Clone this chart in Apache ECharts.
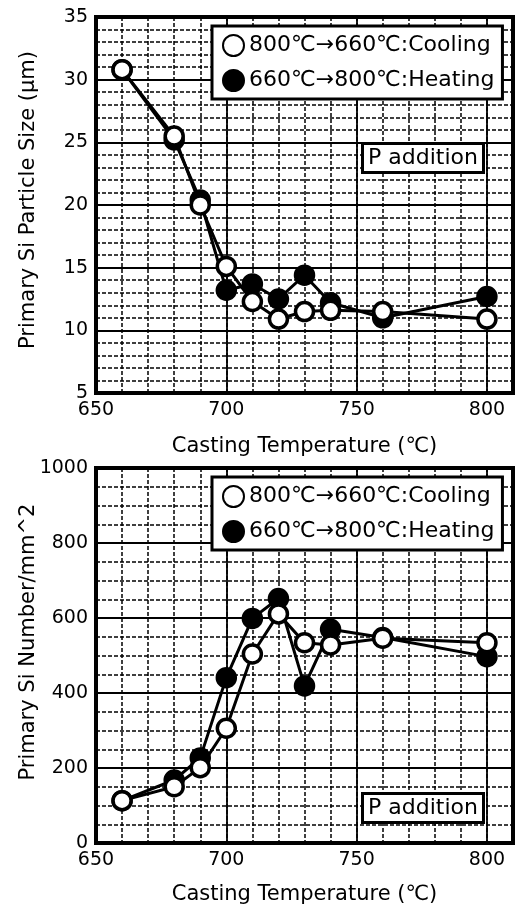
<!DOCTYPE html>
<html lang='en'>
  <head>
    <meta charset='utf-8'>
    <title>Primary Si vs casting temperature</title>
  </head>
  <body style="margin:0;background:#fff;">
    <div id="main" style="width:515px;height:907px;"></div>
    <script src="https://cdn.jsdelivr.net/npm/echarts@6/dist/echarts.min.js"></script>
    <script>
      // casting temperatures (C)
      var temps = [660, 680, 690, 700, 710, 720, 730, 740, 760, 800];
      // primary Si particle size (um)
      var sizeCooling = [30.8, 25.5, 20.0, 15.1, 12.3, 10.9, 11.5, 11.6, 11.5, 10.9];
      var sizeHeating = [30.8, 25.2, 20.4, 13.2, 13.7, 12.5, 14.4, 12.2, 11.0, 12.7];
      // primary Si number per mm^2
      var numCooling = [113, 150, 201, 306, 504, 611, 534, 528, 546, 534];
      var numHeating = [113, 168, 227, 441, 599, 652, 419, 570, 548, 497];

      var nameCooling = '800℃→660℃:Cooling';
      var nameHeating = '660℃→800℃:Heating';
      var font = '"DejaVu Sans", "Noto Sans CJK JP", sans-serif';

      function pairs(xs, ys) {
        return xs.map(function(x, i) { return [x, ys[i]]; });
      }

      var dashed = { color: '#000', width: 1.5, type: [4, 2] };
      var solid = { color: '#000', width: 1.8 };

      // hidden axis only used for the 10-degree dashed grid
      function minorX(g) {
        return {
          type: 'value', gridIndex: g, position: 'top', min: 650, max: 810, interval: 10,
          axisLine: { show: false }, axisTick: { show: false }, axisLabel: { show: false },
          splitLine: { show: true, lineStyle: dashed }
        };
      }
      function mainX(g, gap) {
        return {
          type: 'value', gridIndex: g, position: 'bottom', min: 650, max: 810, interval: 50,
          name: 'Casting Temperature (℃)', nameLocation: 'middle', nameGap: gap,
          nameTextStyle: { fontFamily: font, fontSize: 21, color: '#000' },
          axisLine: { show: false }, axisTick: { show: false },
          axisLabel: { fontFamily: font, fontSize: 19, color: '#000', margin: 8, showMaxLabel: false,
                       formatter: function(v) { return String(v); } },
          splitLine: { show: true, lineStyle: solid }
        };
      }
      function yAx(g, min, max, interval, minorN) {
        return {
          type: 'value', gridIndex: g, min: min, max: max, interval: interval,
          axisLine: { show: false }, axisTick: { show: false },
          axisLabel: { fontFamily: font, fontSize: 19, color: '#000', margin: 8,
                       formatter: function(v) { return String(v); } },
          splitLine: { show: true, lineStyle: solid },
          minorTick: { show: false, splitNumber: minorN },
          minorSplitLine: { show: true, lineStyle: dashed }
        };
      }

      function series(name, data, xi, yi, fill) {
        return {
          name: name, type: 'line', xAxisIndex: xi, yAxisIndex: yi,
          data: data, symbol: 'circle', symbolSize: 18,
          lineStyle: { color: '#000', width: 3 },
          itemStyle: { color: fill, borderColor: '#000', borderWidth: 3.5 },
          z: fill === '#fff' ? 4 : 3
        };
      }

      function legendAt(top) {
        return {
          data: [nameCooling, nameHeating], orient: 'vertical', left: 212, top: top,
          icon: 'circle', itemWidth: 21, itemHeight: 21, itemGap: 12, itemTextGap: 9,
          padding: [8, 8, 7, 10], borderColor: '#000', borderWidth: 3, backgroundColor: '#fff',
          selectedMode: false,
          textStyle: { fontFamily: font, fontSize: 22, color: '#000' }
        };
      }

      function pBox(top) {
        return {
          text: 'P addition', left: 362, top: top, padding: [4, 6, 4, 6],
          borderColor: '#000', borderWidth: 3, backgroundColor: '#fff',
          textStyle: { fontFamily: font, fontSize: 22, fontWeight: 'normal', color: '#000' }
        };
      }

      var myChart = echarts.init(document.getElementById('main'));
      var option = {
        animation: false,
        backgroundColor: '#fff',
        title: [pBox(143), pBox(793)],
        legend: [legendAt(26), legendAt(477)],
        grid: [
          { left: 96, top: 17, width: 417, height: 376, show: true, borderColor: '#000', borderWidth: 4 },
          { left: 96, top: 468, width: 417, height: 375, show: true, borderColor: '#000', borderWidth: 4 }
        ],
        xAxis: [minorX(0), minorX(1), mainX(0, 43), mainX(1, 41)],
        yAxis: [yAx(0, 5, 35, 5, 5), yAx(1, 0, 1000, 200, 4)],
        graphic: [
          {
            type: 'text', x: 29, y: 200, rotation: Math.PI / 2,
            style: { text: 'Primary Si Particle Size (μm)', font: '21px ' + font, fill: '#000',
                     textAlign: 'center', textVerticalAlign: 'middle', align: 'center', verticalAlign: 'middle' }
          },
          {
            type: 'text', x: 29, y: 642, rotation: Math.PI / 2,
            style: { text: 'Primary Si Number/mm^2', font: '21px ' + font, fill: '#000',
                     textAlign: 'center', textVerticalAlign: 'middle', align: 'center', verticalAlign: 'middle' }
          }
        ],
        series: [
          series(nameHeating, pairs(temps, sizeHeating), 2, 0, '#000'),
          series(nameCooling, pairs(temps, sizeCooling), 2, 0, '#fff'),
          series(nameHeating, pairs(temps, numHeating), 3, 1, '#000'),
          series(nameCooling, pairs(temps, numCooling), 3, 1, '#fff')
        ]
      };
      myChart.setOption(option);
    </script>
  </body>
</html>
